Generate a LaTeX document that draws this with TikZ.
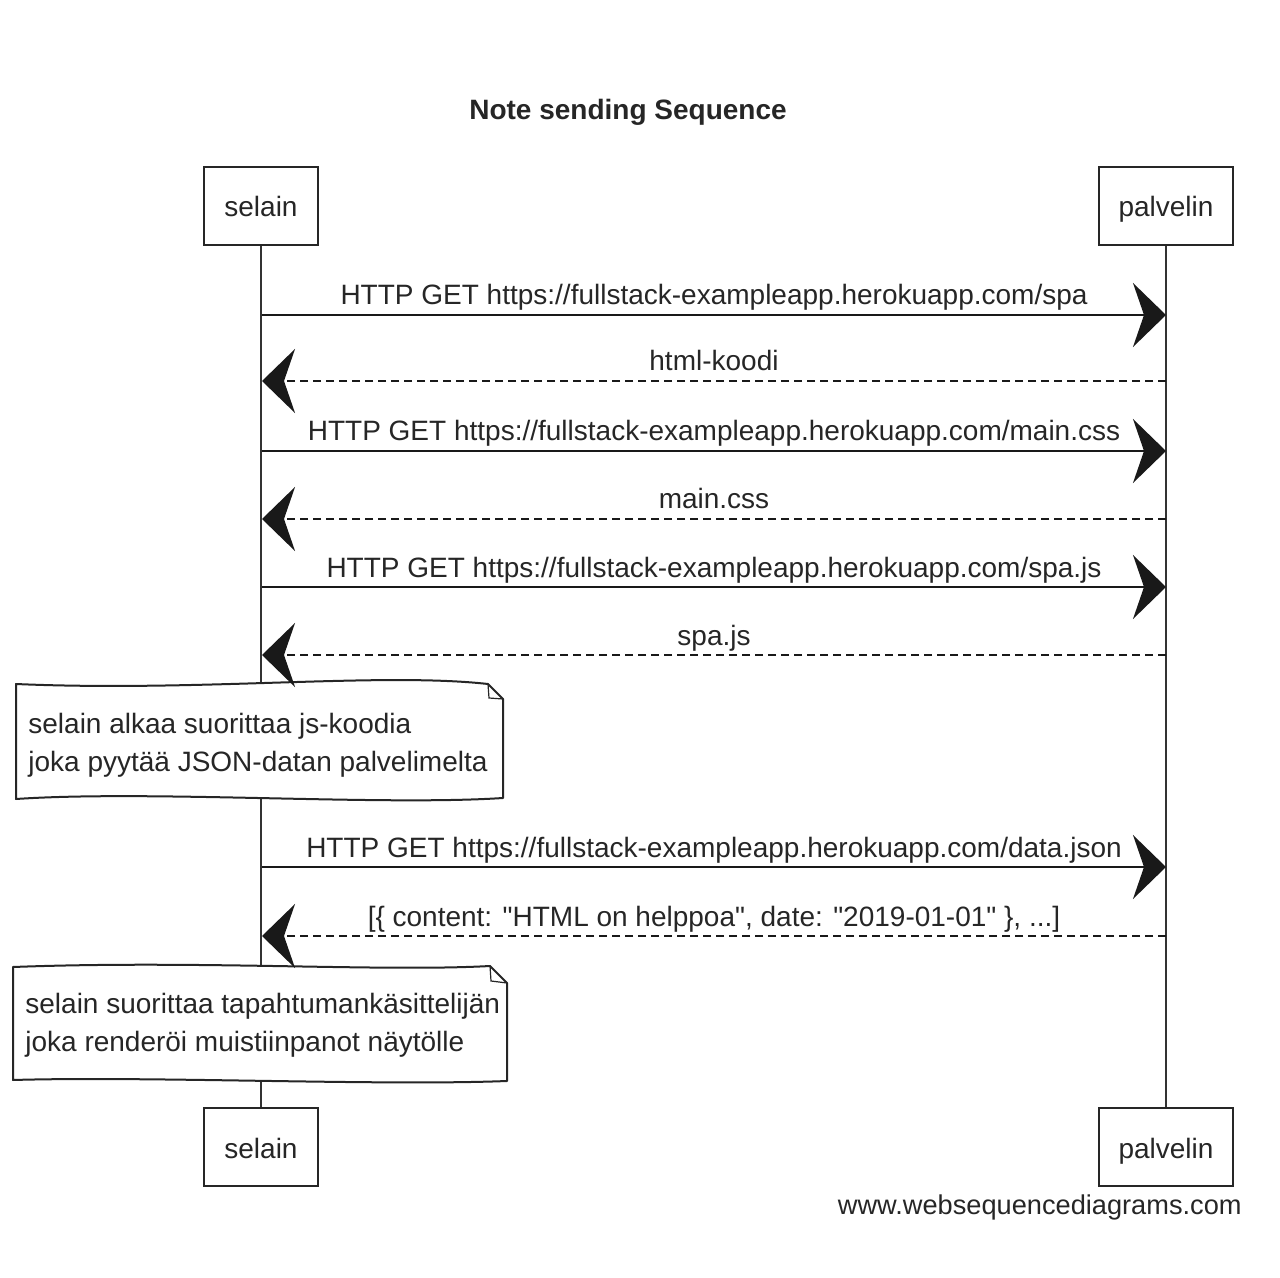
\documentclass[tikz,border=0pt]{standalone}
\usepackage{fontspec}
\setmainfont{Liberation Sans}
\usetikzlibrary{arrows.meta}
\begin{document}
\begin{tikzpicture}[x=0.5pt,y=-0.5pt,
  every node/.style={font=\fontsize{14pt}{19pt}\selectfont, text=black!85},
  actor/.style={draw=black!85, line width=1.2pt, fill=white, minimum width=57pt, minimum height=39pt, text height=11pt, text depth=0pt, inner sep=0pt},
  life/.style={draw=black!80, line width=0.7pt},
  tipstyle/.style={-{Stealth[length=16.5pt,width=32pt,inset=5.5pt]}},
  msgsolid/.style={draw=black!90, line width=1pt, tipstyle},
  msgdash/.style={draw=black!90, line width=1pt, dash pattern=on 4pt off 2.5pt, tipstyle},
  lbl/.style={anchor=base, yshift=5pt, inner sep=0pt},
  notebox/.style={draw=black!85, line width=1pt, fill=white, line join=round},
  notefold/.style={draw=black!85, line width=0.6pt},
  notetext/.style={align=left, anchor=base west, inner sep=0pt}
]
\useasboundingbox (0,0) rectangle (1280,1278);

% title
\node[anchor=base, font=\fontsize{14pt}{18pt}\selectfont\bfseries] (title) at (628,120) {Note sending Sequence};

% actors
\node[actor] (selTop) at (261,206) {selain};
\node[actor, minimum width=67pt] (palTop) at (1166,206) {palvelin};
\node[actor] (selBot) at (261,1147) {selain};
\node[actor, minimum width=67pt] (palBot) at (1166,1147) {palvelin};

% lifelines
\draw[life] (selTop.south) -- (selBot.north);
\draw[life] (palTop.south) -- (palBot.north);

% notes
\draw[notebox] (16,684) .. controls (200,692) and (380,672) .. (488,684)
  -- (503,699) -- (503,798) .. controls (380,806) and (150,790) .. (16,799) -- cycle;
\draw[notefold] (488,684) -- (489,698) -- (503,699);
\node[notetext] (note1) at (28,771) {selain alkaa suorittaa js-koodia\\joka pyytää JSON-datan palvelimelta};

\draw[notebox] (13,967) .. controls (200,960) and (380,972) .. (490,966)
  -- (507,983) -- (507,1081) .. controls (380,1086) and (150,1076) .. (13,1080) -- cycle;
\draw[notefold] (490,966) -- (491,981) -- (507,983);
\node[notetext] (note2) at (25,1051) {selain suorittaa tapahtumankäsittelijän\\joka renderöi muistiinpanot näytölle};

% message end points on lifelines
\foreach \n/\y in {1/315,2/381,3/451,4/519,5/587,6/655,7/867,8/936}{
  \coordinate (s\n) at (262,\y);
  \coordinate (p\n) at (1166,\y);
}

\draw[msgsolid] (s1) -- (p1) node[lbl, midway] (l1) {HTTP GET https://fullstack-exampleapp.herokuapp.com/spa};
\draw[msgdash] (p2) -- (s2) node[lbl, midway] (l2) {html-koodi};
\draw[msgsolid] (s3) -- (p3) node[lbl, midway] (l3) {HTTP GET https://fullstack-exampleapp.herokuapp.com/main.css};
\draw[msgdash] (p4) -- (s4) node[lbl, midway] (l4) {main.css};
\draw[msgsolid] (s5) -- (p5) node[lbl, midway] (l5) {HTTP GET https://fullstack-exampleapp.herokuapp.com/spa.js};
\draw[msgdash] (p6) -- (s6) node[lbl, midway] (l6) {spa.js};
\draw[msgsolid] (s7) -- (p7) node[lbl, midway] (l7) {HTTP GET https://fullstack-exampleapp.herokuapp.com/data.json};
\draw[msgdash] (p8) -- (s8) node[lbl, midway] (l8) {[\{ content: \textquotedbl HTML on helppoa\textquotedbl, date: \textquotedbl 2019-01-01\textquotedbl\ \}, ...]};

% footer
\node[anchor=base east, inner sep=0pt, font=\fontsize{13.6pt}{16pt}\selectfont] (footer) at (1242,1214) {www.websequencediagrams.com};
\end{tikzpicture}
\end{document}
